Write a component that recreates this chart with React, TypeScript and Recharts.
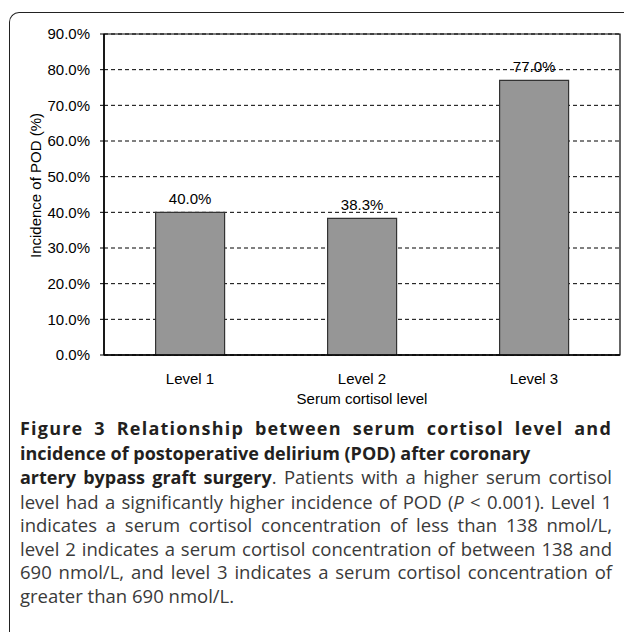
import React from 'react';
import { BarChart, Bar, XAxis, YAxis, CartesianGrid, LabelList, ReferenceArea } from 'recharts';

const levels = ['Level 1', 'Level 2', 'Level 3'];
const incidence = [40.0, 38.3, 77.0];
const yTicks = [0, 10, 20, 30, 40, 50, 60, 70, 80, 90];
const xTitle = 'Serum cortisol level';
const yTitle = 'Incidence of POD (%)';

const chartData = levels.map((name, i) => ({ name, value: incidence[i] }));

const pct = (v: any) => `${Number(v).toFixed(1)}%`;

const chartFont = '"Liberation Sans", Arial, sans-serif';

// rotated y-axis title, placed off the axis box
const YTitle = (props: any) => {
    const { viewBox } = props;
    const cx = viewBox.x + 35;
    const cy = viewBox.y + viewBox.height / 2 - 9;
    return (
        <text
            x={cx}
            y={cy}
            transform={`rotate(-90 ${cx} ${cy})`}
            textAnchor="middle"
            dominantBaseline="central"
            fontSize={15}
            fontFamily={chartFont}
            fill="#000"
        >
            {yTitle}
        </text>
    );
};

const captionLines: { parts: { text: string; bold?: boolean; italic?: boolean }[]; justify: boolean }[] = [
    { parts: [{ text: 'Figure 3 Relationship between serum cortisol level and', bold: true }], justify: true },
    { parts: [{ text: 'incidence of postoperative delirium (POD) after coronary', bold: true }], justify: false },
    {
        parts: [
            { text: 'artery bypass graft surgery', bold: true },
            { text: '. Patients with a higher serum cortisol' },
        ],
        justify: true,
    },
    {
        parts: [
            { text: 'level had a significantly higher incidence of POD (' },
            { text: 'P', italic: true },
            { text: ' < 0.001). Level 1' },
        ],
        justify: true,
    },
    { parts: [{ text: 'indicates a serum cortisol concentration of less than 138 nmol/L,' }], justify: true },
    { parts: [{ text: 'level 2 indicates a serum cortisol concentration of between 138 and' }], justify: true },
    { parts: [{ text: '690 nmol/L, and level 3 indicates a serum cortisol concentration of' }], justify: true },
    { parts: [{ text: 'greater than 690 nmol/L.' }], justify: false },
];

const regularSize = 18.5;

export default function App() {
    return (
        <div style={{ position: 'absolute', left: 0, top: 0, width: 627, height: 632, background: '#fff', overflow: 'hidden' }}>
            <div
                style={{
                    position: 'absolute',
                    left: 9,
                    top: 12,
                    width: 614,
                    height: 660,
                    borderTop: '1.5px solid #222',
                    borderLeft: '1.5px solid #222',
                    borderTopLeftRadius: 10,
                }}
            />
            <div style={{ position: 'absolute', left: 0, top: 0 }}>
                <BarChart
                    width={627}
                    height={410}
                    data={chartData}
                    margin={{ top: 34, right: 7, left: 0, bottom: 0 }}
                    barCategoryGap="30%"
                >
                    <CartesianGrid yAxisId="left" vertical={false} stroke="#000" strokeDasharray="4 3" />
                    <XAxis
                        dataKey="name"
                        height={55}
                        tickLine={false}
                        tickSize={0}
                        tickMargin={18}
                        axisLine={{ stroke: '#000', strokeWidth: 1.5 }}
                        tick={{ fill: '#000', fontSize: 15, fontFamily: chartFont }}
                        label={{
                            value: xTitle,
                            position: 'insideBottom',
                            offset: 6,
                            fill: '#000',
                            fontSize: 15,
                            fontFamily: chartFont,
                        }}
                    />
                    <YAxis
                        yAxisId="left"
                        width={104}
                        domain={[0, 90]}
                        ticks={yTicks}
                        tickFormatter={pct}
                        tickSize={4}
                        tickMargin={10}
                        axisLine={{ stroke: '#000', strokeWidth: 1.5 }}
                        tickLine={{ stroke: '#000' }}
                        tick={{ fill: '#000', fontSize: 15, fontFamily: chartFont }}
                        label={<YTitle />}
                    />
                    {/* plot frame: solid top and right edges */}
                    <ReferenceArea
                        yAxisId="left"
                        y1={0}
                        y2={90}
                        fill="none"
                        stroke="#000"
                        strokeWidth={1.2}
                        ifOverflow="visible"
                    />
                    <Bar
                        yAxisId="left"
                        dataKey="value"
                        fill="#969696"
                        stroke="#333"
                        strokeWidth={1.2}
                        isAnimationActive={false}
                    >
                        <LabelList
                            dataKey="value"
                            position="top"
                            offset={8}
                            formatter={pct}
                            fill="#000"
                            fontSize={15}
                            fontFamily={chartFont}
                        />
                    </Bar>
                </BarChart>
            </div>
            <div
                style={{
                    position: 'absolute',
                    left: 20,
                    top: 416,
                    width: 592,
                    fontFamily: '"Open Sans", sans-serif',
                    fontSize: regularSize,
                    lineHeight: '23.5px',
                    color: '#3a3a3a',
                }}
            >
                {captionLines.map((line, i) => (
                    <div
                        key={i}
                        style={{
                            textAlign: line.justify ? 'justify' : 'left',
                            textAlignLast: line.justify ? 'justify' : 'left',
                            whiteSpace: 'nowrap',
                            letterSpacing: i === 0 ? 1.2 : 0,
                        }}
                    >
                        {line.parts.map((p, j) => (
                            <span
                                key={j}
                                style={{
                                    fontWeight: p.bold ? 700 : 400,
                                    fontStyle: p.italic ? 'italic' : 'normal',
                                    fontSize: p.bold ? 18 : regularSize,
                                    color: p.bold ? '#231f20' : '#3a3a3a',
                                }}
                            >
                                {p.text}
                            </span>
                        ))}
                    </div>
                ))}
            </div>
        </div>
    );
}
